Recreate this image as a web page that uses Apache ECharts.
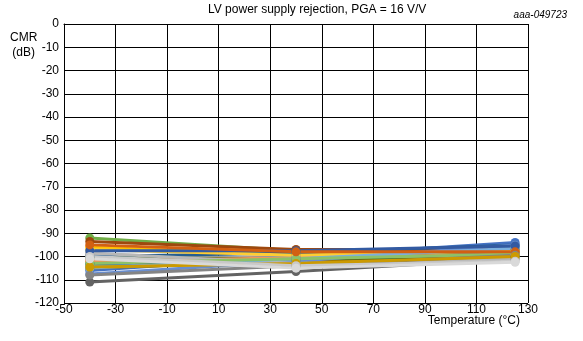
<!DOCTYPE html>
<html><head><meta charset="utf-8">
<script src="https://cdn.jsdelivr.net/npm/echarts@6/dist/echarts.min.js"></script>
<style>html,body{margin:0;padding:0;background:#fff}#c{width:583px;height:341px}</style>
</head><body><div id="c"></div>
<script>
const temperatures = [-40, 40, 125];
const xTicks = [-50, -30, -10, 10, 30, 50, 70, 90, 110, 130];
const yTicks = [0, -10, -20, -30, -40, -50, -60, -70, -80, -90, -100, -110, -120];
const seriesNames = ['s1','s2','s3','s4','s5','s6','s7','s8','s9','s10','s11','s12','s13','s14','s15','s16','s17','s18','s19','s20','s21','s22','s23','s24'];
const seriesColors = ['#4472C4','#ED7D31','#A5A5A5','#FFC000','#5B9BD5','#70AD47','#264478','#9E480E','#636363','#997300','#255E91','#43682B','#698ED0','#F1975A','#B7B7B7','#FFCD33','#7CAFDD','#8CC168','#335AA1','#D26012','#848484','#CC9A00','#C9C9C9','#D9D9D9'];
const seriesValues = [
  [-106, -100, -94],
  [-101.5, -100, -98.5],
  [-99, -101, -99],
  [-96, -99, -97],
  [-104, -100, -96],
  [-92, -97.5, -97],
  [-103, -101, -98],
  [-93.5, -97, -97],
  [-111, -106.5, -101],
  [-105, -102, -99],
  [-100, -98.5, -95],
  [-100.5, -101, -100],
  [-107.5, -102, -95],
  [-102, -100.5, -99],
  [-98.5, -103, -101],
  [-97, -99.5, -97.5],
  [-105, -101, -96.5],
  [-103, -101, -99],
  [-97.5, -97.5, -95.5],
  [-95, -98, -98],
  [-108, -104, -99.5],
  [-104.5, -103, -100],
  [-100, -104, -102],
  [-101, -105, -102.5]
];
const titleText = 'LV power supply rejection, PGA = 16 V/V';
const codeText = 'aaa-049723';
const yName = 'CMR\n(dB)';
const xName = 'Temperature (°C)';

const FONT = 'Liberation Sans, Arial, sans-serif';
const X0 = xTicks[0];
const chart = echarts.init(document.getElementById('c'), null, {renderer: 'canvas'});
const series = seriesValues.map((vals, i) => ({
  name: seriesNames[i],
  type: 'line',
  data: vals.map((v, j) => [temperatures[j] - X0, v]),
  symbol: 'circle',
  symbolSize: 9,
  lineStyle: {width: 3, color: seriesColors[i]},
  itemStyle: {color: seriesColors[i]},
  animation: false
}));
chart.setOption({
  animation: false,
  grid: {left: 64, right: 55, top: 24, bottom: 38},
  xAxis: {
    type: 'value', min: 0, max: xTicks[xTicks.length-1] - X0, interval: 20,
    axisLine: {show: true, lineStyle: {color: '#000', width: 1}},
    axisTick: {show: false},
    splitLine: {show: true, lineStyle: {color: '#000', width: 1}},
    axisLabel: {color: '#000', fontFamily: FONT, fontSize: 12, margin: 1, showMinLabel: true, showMaxLabel: true,
      formatter: v => String(v + X0)}
  },
  yAxis: {
    type: 'value', min: yTicks[yTicks.length-1], max: yTicks[0], interval: 10,
    axisLine: {show: true, lineStyle: {color: '#000', width: 1}},
    axisTick: {show: false},
    splitLine: {show: true, lineStyle: {color: '#000', width: 1}},
    axisLabel: {color: '#000', fontFamily: FONT, fontSize: 12, margin: 5}
  },
  graphic: [
    {type: 'text', left: 208, top: 4, style: {text: titleText, fill: '#000', font: '12px ' + FONT}},
    {type: 'text', right: 16, top: 10, style: {text: codeText, fill: '#000', font: 'italic 10px ' + FONT}},
    {type: 'text', left: 10, top: 30, style: {text: yName, fill: '#000', font: '12px ' + FONT, textAlign: 'center', lineHeight: 15}},
    {type: 'text', right: 63, top: 315, style: {text: xName, fill: '#000', font: '12px ' + FONT}}
  ],
  series: series
});
</script></body></html>
